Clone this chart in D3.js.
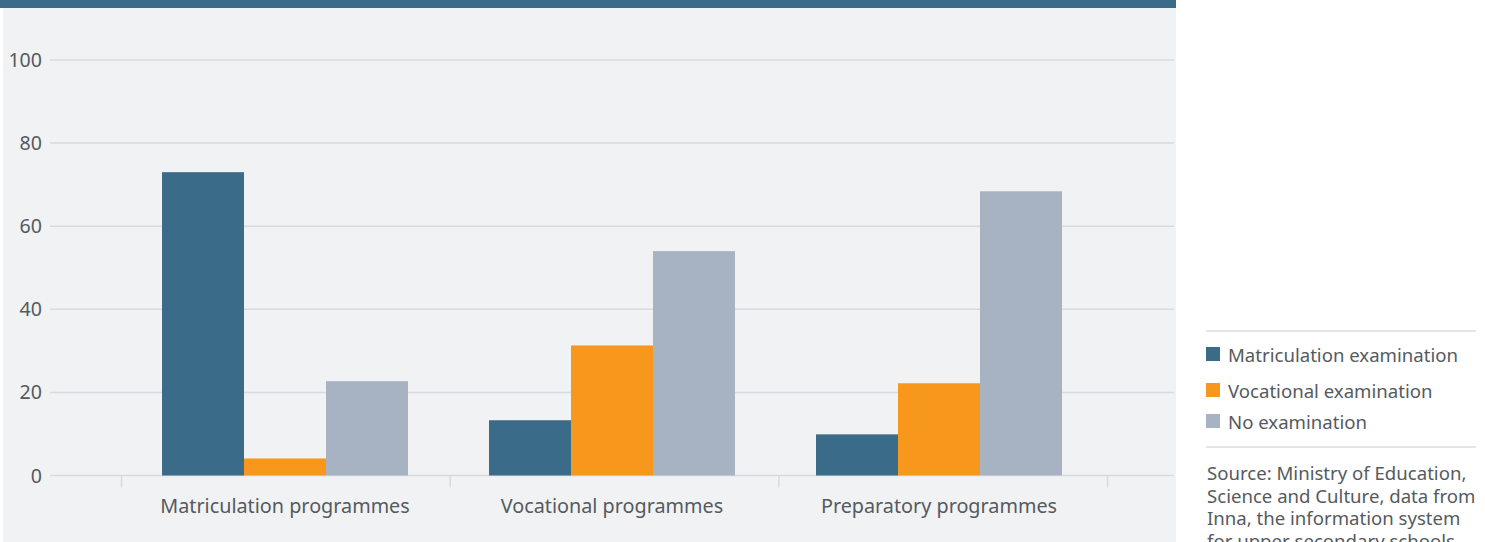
<!DOCTYPE html>
<html>
<head>
<meta charset="utf-8">
<script src="https://cdn.jsdelivr.net/npm/d3@7"></script>
<style>
  html, body { margin: 0; padding: 0; background: #fff; }
  svg { display: block; font-family: 'Noto Sans', sans-serif; }
</style>
</head>
<body>
<div id="chart"></div>
<script>
const categories = ['Matriculation programmes', 'Vocational programmes', 'Preparatory programmes'];
const seriesNames = ['Matriculation examination', 'Vocational examination', 'No examination'];
const matriculationExam = [73, 13.3, 9.9];
const vocationalExam = [4.1, 31.3, 22.2];
const noExam = [22.7, 54, 68.4];
const yTicks = [0, 20, 40, 60, 80, 100];
const sourceLines = [
  'Source: Ministry of Education,',
  'Science and Culture, data from',
  'Inna, the information system',
  'for upper secondary schools'
];

const colors = ['#3a6b89', '#f7981d', '#a7b3c3'];
const textColor = '#555a5e';

const W = 1485, H = 542;
const svg = d3.select('#chart').append('svg').attr('width', W).attr('height', H);

// panel + top band
svg.append('rect').attr('x', 3).attr('y', 0).attr('width', 1173).attr('height', H).attr('fill', '#f1f2f4');
svg.append('rect').attr('x', 0).attr('y', 0).attr('width', 1176).attr('height', 8).attr('fill', '#3a6b89');

const y = d3.scaleLinear().domain([0, 100]).range([475.5, 60]);
// category slots (for the boundary ticks) and bar groups
const xSlot = d3.scaleBand().domain(categories).range([121.5, 1107.5]);
const x = d3.scaleBand().domain(categories).range([162, 1062]).paddingInner(0.2477);
const x1 = d3.scaleBand().domain(seriesNames).range([0, x.bandwidth()]);

const rows = categories.map((c, i) => ({
  cat: c,
  values: [matriculationExam[i], vocationalExam[i], noExam[i]]
}));

// gridlines
svg.append('g').selectAll('line').data(yTicks).join('line')
  .attr('x1', 50).attr('x2', 1174)
  .attr('y1', d => y(d)).attr('y2', d => y(d))
  .attr('stroke', '#d9dadd').attr('stroke-width', 1.5);

svg.append('g').selectAll('text').data(yTicks).join('text')
  .attr('x', 42).attr('y', d => y(d)).attr('dy', '0.36em')
  .attr('text-anchor', 'end').attr('font-size', 19.6).attr('fill', textColor)
  .text(d => d);

// category boundary ticks
const bounds = categories.map(c => xSlot(c)).concat([xSlot(categories[categories.length - 1]) + xSlot.step()]);
svg.append('g').selectAll('line').data(bounds).join('line')
  .attr('x1', d => d).attr('x2', d => d)
  .attr('y1', y(0)).attr('y2', y(0) + 12)
  .attr('stroke', '#d9dadd').attr('stroke-width', 1.5);

// bars
const groups = svg.append('g').selectAll('g').data(rows).join('g')
  .attr('transform', d => 'translate(' + x(d.cat) + ',0)');
groups.selectAll('rect').data(d => d.values.map((v, k) => ({ key: seriesNames[k], v: v, k: k }))).join('rect')
  .attr('x', d => x1(d.key))
  .attr('width', x1.bandwidth())
  .attr('y', d => y(d.v))
  .attr('height', d => y(0) - y(d.v))
  .attr('fill', d => colors[d.k]);

svg.append('g').selectAll('text').data(categories).join('text')
  .attr('x', d => x(d) + x.bandwidth() / 2).attr('y', 513)
  .attr('text-anchor', 'middle').attr('font-size', 19.8).attr('fill', textColor)
  .text(d => d);

// legend
const lg = svg.append('g');
lg.append('line').attr('x1', 1206).attr('x2', 1476).attr('y1', 331).attr('y2', 331).attr('stroke', '#dcdcdc').attr('stroke-width', 1.5);
lg.append('line').attr('x1', 1206).attr('x2', 1476).attr('y1', 447).attr('y2', 447).attr('stroke', '#dcdcdc').attr('stroke-width', 1.5);
const legendY = [347, 383, 414];
const items = lg.selectAll('g.item').data(seriesNames).join('g').attr('class', 'item')
  .attr('transform', (d, i) => 'translate(1206,' + legendY[i] + ')');
items.append('rect').attr('width', 14).attr('height', 14).attr('fill', (d, i) => colors[i]);
items.append('text').attr('x', 22).attr('y', 14.5).attr('font-size', 18.6).attr('fill', textColor).text(d => d);

svg.append('g').selectAll('text').data(sourceLines).join('text')
  .attr('x', 1207).attr('y', (d, i) => 480 + i * 22.5)
  .attr('font-size', 18.6).attr('fill', textColor)
  .text(d => d);
</script>
</body>
</html>
